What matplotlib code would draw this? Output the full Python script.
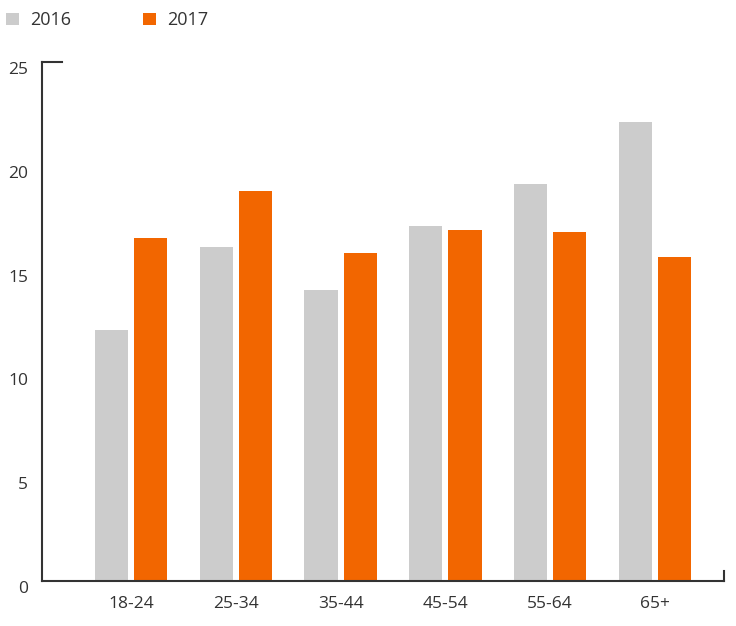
import matplotlib.pyplot as plt
import numpy as np

ages = ['18-24', '25-34', '35-44', '45-54', '55-64', '65+']
vals_2016 = [12.1, 16.1, 14.0, 17.1, 19.1, 22.1]
vals_2017 = [16.5, 18.8, 15.8, 16.9, 16.8, 15.6]

plt.rcParams['font.family'] = ['Open Sans', 'DejaVu Sans']

fig = plt.figure(figsize=(7.36, 6.26), dpi=100)
ax = fig.add_axes([0.057, 0.072, 0.927, 0.829])

x = np.arange(len(ages))
w = 0.316
b1 = ax.bar(x - 0.187, vals_2016, w, color='#cccccc', label='2016')
b2 = ax.bar(x + 0.187, vals_2017, w, color='#f26600', label='2017')

ax.set_xlim(-0.85, 5.66)
ax.set_ylim(0, 25)
ax.set_yticks([0, 5, 10, 15, 20, 25])
ax.set_xticks(x)
ax.set_xticklabels(ages)

for s in ['top', 'right']:
    ax.spines[s].set_visible(False)
for s in ['left', 'bottom']:
    ax.spines[s].set_color('#333333')
    ax.spines[s].set_linewidth(1.5)

ax.tick_params(axis='both', length=0, labelsize=12.5, colors='#333333')
ax.tick_params(axis='y', pad=10)
ax.tick_params(axis='x', pad=11)
for lab in ax.get_yticklabels():
    lab.set_verticalalignment('top')

# little hooks at the axis ends
ax.plot([0, 0.03], [1, 1], transform=ax.transAxes, color='#333333', lw=1.5, clip_on=False)
ax.plot([1, 1], [0, 0.02], transform=ax.transAxes, color='#333333', lw=1.5, clip_on=False)

fig.legend(handles=[b1, b2], loc='upper left', bbox_to_anchor=(0.008, 0.982), ncol=2,
           frameon=False, fontsize=13, handlelength=0.72, handleheight=0.72,
           handletextpad=0.6, columnspacing=4.0, borderpad=0, borderaxespad=0,
           labelcolor='#333333')

fig.savefig('out.png', dpi=100)
